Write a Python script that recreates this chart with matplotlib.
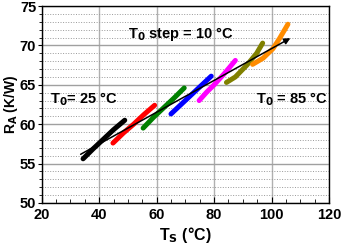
import matplotlib
matplotlib.use('Agg')
import matplotlib.pyplot as plt
from matplotlib.ticker import MultipleLocator

plt.rcParams['font.family'] = ['Liberation Sans', 'DejaVu Sans']
plt.rcParams['font.weight'] = 'bold'

# surface temperature T_S (degC) and thermal resistance R_A (K/W), one run per T0
t_black = [34.4, 38.0, 41.5, 45.0, 48.9]
r_black = [55.6, 56.9, 58.1, 59.3, 60.5]
t_red = [44.8, 48.5, 52.0, 55.5, 59.3]
r_red = [57.6, 58.9, 60.0, 61.2, 62.4]
t_green = [55.3, 59.0, 62.5, 66.0, 69.6]
r_green = [59.5, 60.9, 62.1, 63.3, 64.6]
t_blue = [65.0, 68.5, 72.0, 75.5, 79.0]
r_blue = [61.3, 62.5, 63.7, 64.9, 66.1]
t_magenta = [74.8, 77.5, 80.0, 83.5, 87.4]
r_magenta = [63.0, 64.1, 65.0, 66.4, 68.1]
t_olive = [84.3, 87.4, 91.4, 94.8, 96.9]
r_olive = [65.3, 66.0, 67.5, 69.0, 70.3]
t_orange = [93.4, 97.1, 100.5, 102.8, 105.7]
r_orange = [67.6, 68.4, 69.6, 70.9, 72.7]

series = [
    (t_black, r_black, 'black'),
    (t_red, r_red, 'red'),
    (t_green, r_green, 'green'),
    (t_blue, r_blue, 'blue'),
    (t_magenta, r_magenta, 'magenta'),
    (t_olive, r_olive, 'olive'),
    (t_orange, r_orange, 'darkorange'),
]

# trend arrow
arrow_start = (32.7, 56.0)
arrow_end = (107.4, 71.1)

fig, ax = plt.subplots(figsize=(3.42, 2.45), dpi=100)
fig.subplots_adjust(left=0.122, right=0.962, top=0.975, bottom=0.172)

for t, r, c in series:
    ax.plot(t, r, color=c, lw=3.6, solid_capstyle='round', zorder=3)

ax.annotate('', xy=arrow_end, xytext=arrow_start,
            arrowprops=dict(arrowstyle='-|>', color='black', lw=1.1,
                            mutation_scale=9), zorder=4)

ax.set_xlim(20, 120)
ax.set_ylim(50, 75)
ax.xaxis.set_major_locator(MultipleLocator(20))
ax.xaxis.set_minor_locator(MultipleLocator(5))
ax.yaxis.set_major_locator(MultipleLocator(5))
ax.yaxis.set_minor_locator(MultipleLocator(1))

ax.grid(which='major', axis='x', color='#b0b0b0', lw=1.0)
ax.grid(which='major', axis='y', color='#a0a0a0', lw=1.0)
ax.grid(which='minor', axis='y', color='#999999', lw=0.7, ls=':')
ax.set_axisbelow(True)

ax.tick_params(axis='x', which='both', direction='in', labelsize=10.5, pad=4)
ax.tick_params(axis='x', which='major', length=4)
ax.tick_params(axis='x', which='minor', length=3)
ax.tick_params(axis='y', which='both', direction='out', labelsize=10.5, pad=1)
ax.tick_params(axis='y', which='major', length=3)
ax.tick_params(axis='y', which='minor', length=2)

for s in ax.spines.values():
    s.set_linewidth(1.0)

ax.set_xlabel('T$_\\mathbf{S}$ (°C)', fontsize=11.5, fontweight='bold', labelpad=2)
ax.set_ylabel('R$_\\mathbf{A}$ (K/W)', fontsize=10, fontweight='bold')
ax.yaxis.set_label_coords(-0.077, 0.5)

ax.text(50, 71.5, 'T$_\\mathbf{0}$ step = 10 °C', fontsize=10.5, fontweight='bold', va='center')
ax.text(23, 63.2, 'T$_\\mathbf{0}$= 25 °C', fontsize=10.5, fontweight='bold', va='center')
ax.text(94.5, 63.2, 'T$_\\mathbf{0}$ = 85 °C', fontsize=10.5, fontweight='bold', va='center')

fig.savefig('out.png', dpi=100)
